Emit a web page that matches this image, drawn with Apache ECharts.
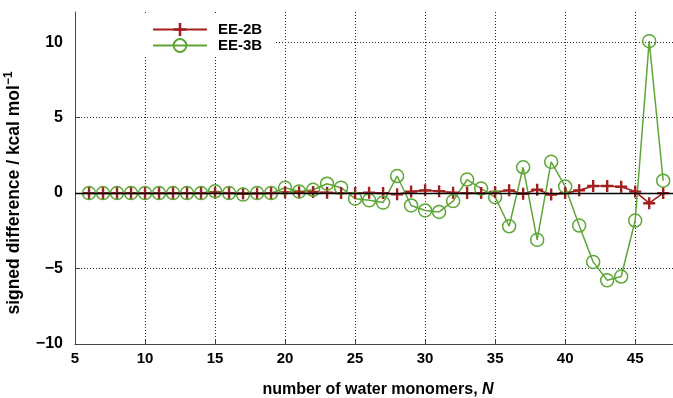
<html>
<head>
    <meta charset="UTF-8">
    <title>signed difference</title>
    <style type="text/css">
    	body{
    		margin: 0;
    		background: #fff;
    	}
    	#main{
    		width: 673px;
    		height: 398px;
    	}
    </style>
</head>
<body>
	<div id="main"></div>
</body>
	<script src="https://cdn.jsdelivr.net/npm/echarts@6/dist/echarts.min.js"></script>
	<script type="text/javascript">

		// number of water monomers
		var monomers = [6,7,8,9,10,11,12,13,14,15,16,17,18,19,20,21,22,23,24,25,26,
			27,28,29,30,31,32,33,34,35,36,37,38,39,40,41,42,43,44,45,46,47];

		var ee2b = [0,0,0,0,0,0,0,0,0,0.02,0,-0.03,-0.02,0,0.05,0.05,0.08,0.02,0,0,0.02,
			0,-0.08,0.1,0.18,0.13,0.02,0,0,0.07,0.18,-0.04,0.22,-0.1,0,0.18,0.47,0.47,0.42,0.1,-0.67,0];

		var ee3b = [0,0,0,0,0,0,0,0,0,0.12,0,-0.1,0,0,0.35,0.1,0.22,0.62,0.36,-0.37,-0.48,
			-0.63,1.13,-0.82,-1.15,-1.25,-0.53,0.9,0.3,-0.27,-2.2,1.71,-3.1,2.07,0.44,-2.15,-4.56,-5.78,-5.53,-1.82,10.07,0.82];

		var xTicks = [5,10,15,20,25,30,35,40,45];
		var yTicks = [-10,-5,0,5,10];

		function pairs(xs, ys) {
			var out = [];
			for (var i = 0; i < xs.length; i++) {
				out.push([xs[i], ys[i]]);
			}
			return out;
		}

		var red = '#a01f1f';
		var green = '#5ea636';
		var font = 'Liberation Sans';
		var gridDot = {color: ['transparent','#222','#222','#222','#222','#222','#222','#222','#222','transparent'], type: [1,2], width: 1};

		var option = {
			animation: false,
			backgroundColor: '#fff',
			grid: {
				left: 75,
				right: 0,
				top: 12,
				bottom: 54,
				containLabel: false,
				outerBoundsMode: 'none'
			},
			legend: {
				orient: 'vertical',
				left: 76,
				top: 13,
				padding: [9, 12, 3, 76],
				backgroundColor: '#fff',
				itemWidth: 54,
				itemHeight: 16,
				itemGap: 1,
				textStyle: {
					color: '#000',
					fontFamily: font,
					fontWeight: 'bold',
					fontSize: 15,
					padding: [0, 0, 0, 6]
				},
				data: ['EE-2B', 'EE-3B']
			},
			xAxis: {
				type: 'value',
				min: 5,
				max: 47.7,
				interval: 5,
				name: '{b|number of water monomers, }{i|N}',
				nameLocation: 'middle',
				nameGap: 38,
				nameTextStyle: {
					padding: [0, 0, 0, 8],
					rich: {
						b: {fontFamily: font, fontWeight: 'bold', fontSize: 16, color: '#000'},
						i: {fontFamily: font, fontWeight: 'bold', fontStyle: 'italic', fontSize: 16, color: '#000'}
					}
				},
				axisLine: {show: true, onZero: false, lineStyle: {color: '#444', width: 1}},
				axisTick: {show: true, inside: true, length: 5, lineStyle: {color: '#444'}},
				axisLabel: {
					color: '#000',
					fontFamily: font,
					fontWeight: 'bold',
					fontSize: 15,
					margin: 7,
					showMaxLabel: false,
					formatter: function (v) {
						return xTicks.indexOf(v) >= 0 ? String(v) : '';
					}
				},
				splitLine: {show: true, lineStyle: gridDot}
			},
			yAxis: {
				type: 'value',
				min: -10,
				max: 12,
				interval: 5,
				name: '{a|signed difference / kcal mol}{s|−1}',
				nameLocation: 'middle',
				nameRotate: 90,
				nameGap: 39,
				nameTextStyle: {
					padding: [0, 30, 0, 0],
					rich: {
						a: {fontFamily: font, fontWeight: 'bold', fontSize: 17.5, color: '#000', lineHeight: 22},
						s: {fontFamily: font, fontWeight: 'bold', fontSize: 12, color: '#000', padding: [0, 0, 10, 0], lineHeight: 22}
					}
				},
				axisLine: {show: true, lineStyle: {color: '#444', width: 1}},
				axisTick: {show: true, inside: true, length: 5, lineStyle: {color: '#444'}},
				axisLabel: {
					color: '#000',
					fontFamily: font,
					fontWeight: 'bold',
					fontSize: 16,
					margin: 12,
					showMaxLabel: false,
					formatter: function (v) {
						if (yTicks.indexOf(v) < 0) return '';
						return String(v).replace('-', '−');
					}
				},
				splitLine: {show: true, lineStyle: {color: ['transparent','#222','transparent','#222','#222','transparent'], type: [1,2], width: 1}}
			},
			series: [{
				name: 'EE-2B',
				type: 'line',
				data: pairs(monomers, ee2b),
				symbol: 'path://M4,0H6V4H10V6H6V10H4V6H0V4H4Z',
				symbolSize: 12,
				itemStyle: {color: red},
				lineStyle: {color: red, width: 1.6},
				markLine: {
					silent: true,
					symbol: 'none',
					label: {show: false},
					lineStyle: {color: '#000', type: 'solid', width: 1.4},
					data: [{yAxis: 0}]
				}
			}, {
				name: 'EE-3B',
				type: 'line',
				data: pairs(monomers, ee3b),
				symbol: 'circle',
				symbolSize: 13,
				itemStyle: {color: 'rgba(0,0,0,0)', borderColor: green, borderWidth: 1.5},
				lineStyle: {color: green, width: 1.5}
			}]
		};

		var myChart1 = echarts.init(document.getElementById('main'));
		myChart1.setOption(option);

	</script>
</html>
